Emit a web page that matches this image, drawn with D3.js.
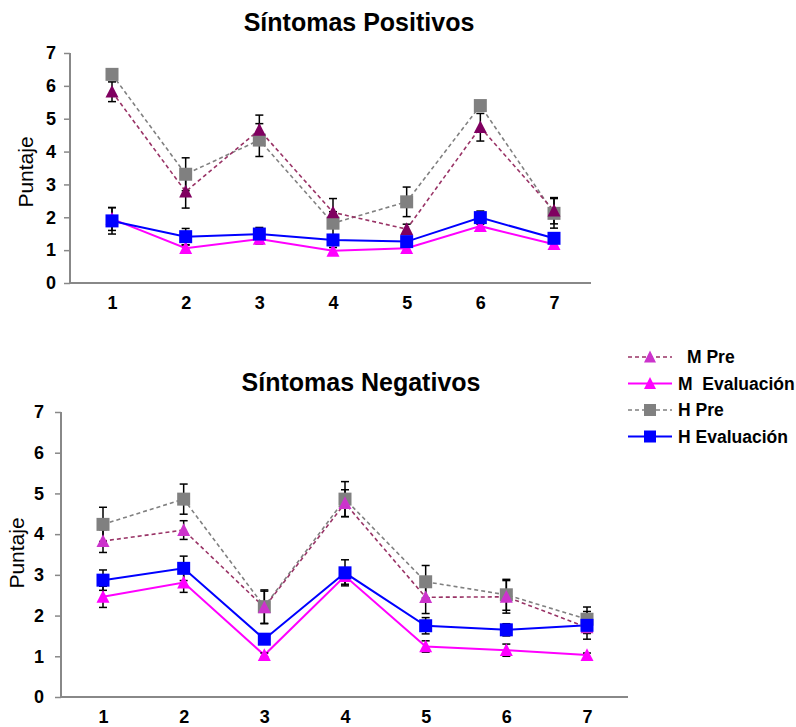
<!DOCTYPE html>
<html>
<head>
<meta charset="utf-8">
<script src="https://cdn.jsdelivr.net/npm/d3@7"></script>
<style>
  body { margin: 0; background: #fff; }
  text { font-family: "Liberation Sans", Arial, sans-serif; white-space: pre; }
</style>
</head>
<body>
<svg id="chart" width="796" height="727"></svg>
<script>
// categories on the x axis
var categories = [1, 2, 3, 4, 5, 6, 7];
var yTicks = [0, 1, 2, 3, 4, 5, 6, 7];

var seriesNames = ["M Pre", "M  Evaluación", "H Pre", "H Evaluación"];

// Síntomas Positivos
var posMPre = [5.82, 2.78, 4.66, 2.15, 1.64, 4.74, 2.2];
var posMEval = [1.95, 1.06, 1.34, 0.98, 1.06, 1.73, 1.18];
var posHPre = [6.35, 3.31, 4.35, 1.82, 2.47, 5.4, 2.12];
var posHEval = [1.89, 1.41, 1.49, 1.31, 1.26, 1.99, 1.36];
var posMPreErr = [0.3, 0.5, 0.45, 0.42, 0.15, 0.42, 0.4];
var posMEvalErr = [0.35, 0.1, 0.15, 0.1, 0.1, 0.1, 0.1];
var posHPreErr = [0.12, 0.5, 0.5, 0.35, 0.45, 0.1, 0.45];
var posHEvalErr = [0.4, 0.25, 0.2, 0.15, 0.15, 0.2, 0.15];

// Síntomas Negativos
var negMPre = [3.83, 4.1, 2.2, 4.76, 2.45, 2.46, 1.71];
var negMEval = [2.46, 2.81, 1.03, 2.97, 1.24, 1.15, 1.03];
var negHPre = [4.24, 4.86, 2.22, 4.86, 2.83, 2.51, 1.91];
var negHEval = [2.87, 3.16, 1.42, 3.05, 1.75, 1.65, 1.76];
var negMPreErr = [0.28, 0.23, 0.4, 0.33, 0.4, 0.4, 0.15];
var negMEvalErr = [0.26, 0.24, 0.05, 0.2, 0.14, 0.15, 0.05];
var negHPreErr = [0.42, 0.37, 0.41, 0.43, 0.4, 0.38, 0.3];
var negHEvalErr = [0.25, 0.3, 0.12, 0.32, 0.2, 0.15, 0.34];

var svg = d3.select("#chart");

// index matches seriesNames
var styles = [
  {line: "#993366", dash: "4,3", width: 1.6, shape: "tri", fill: "#cc33cc"},
  {line: "#ff00ff", dash: null, width: 2, shape: "tri", fill: "#ff00ff"},
  {line: "#808080", dash: "4,3", width: 1.6, shape: "sq", fill: "#808080"},
  {line: "#0000ff", dash: null, width: 2, shape: "sq", fill: "#0000ff"}
];
var drawOrder = [2, 0, 1, 3];

function marker(sel, shape, fill, size) {
  if (shape === "sq") {
    sel.append("rect")
        .attr("x", -size / 2).attr("y", -size / 2)
        .attr("width", size).attr("height", size)
        .attr("fill", fill);
  } else {
    var h = size * 0.9;
    sel.append("path")
        .attr("d", "M0," + (-h / 2 - 1) + "L" + (size / 2) + "," + (h / 2) + "L" + (-size / 2) + "," + (h / 2) + "Z")
        .attr("fill", fill);
  }
}

function panel(opts) {
  var x = d3.scalePoint().domain(categories).range(opts.xRange);
  var y = d3.scaleLinear().domain([0, 7]).range(opts.yRange);
  var g = svg.append("g");

  // title
  g.append("text")
      .attr("x", opts.titleX).attr("y", opts.titleY)
      .attr("text-anchor", "middle")
      .attr("font-size", 25).attr("font-weight", "bold")
      .text(opts.title);

  // y axis
  var yAxis = g.append("g")
      .attr("transform", "translate(" + opts.axisX + ",0)")
      .call(d3.axisLeft(y).tickValues(yTicks).tickSize(6).tickPadding(opts.tickPad).tickFormat(d3.format("d")));
  yAxis.select(".domain").attr("stroke", "#888").attr("stroke-width", 2)
      .attr("d", "M0," + y(7) + "V" + y(0));
  yAxis.selectAll(".tick line").attr("stroke", "#888").attr("stroke-width", 1.5);
  yAxis.selectAll(".tick text").attr("font-size", 18).attr("font-weight", "bold")
      .attr("fill", "#000").attr("font-family", "Liberation Sans, Arial, sans-serif");

  // x axis
  var xAxis = g.append("g")
      .attr("transform", "translate(0," + y(0) + ")")
      .call(d3.axisBottom(x).tickSize(0).tickPadding(opts.xPad));
  xAxis.select(".domain").attr("stroke", "#888").attr("stroke-width", 2)
      .attr("d", "M" + opts.axisX + ",0H" + opts.axisEnd);
  xAxis.selectAll(".tick text").attr("font-size", 18).attr("font-weight", "bold")
      .attr("fill", "#000").attr("font-family", "Liberation Sans, Arial, sans-serif");

  // y label
  g.append("text")
      .attr("transform", "translate(" + opts.labelX + "," + opts.labelY + ") rotate(-90)")
      .attr("text-anchor", "middle")
      .attr("font-size", 21)
      .text("Puntaje");

  var line = d3.line()
      .x(function(d, i) { return x(categories[i]); })
      .y(function(d) { return y(d); });

  drawOrder.forEach(function(k) {
    var st = styles[k], s = opts.series[k];
    g.append("path")
        .datum(s.values)
        .attr("fill", "none")
        .attr("stroke", st.line)
        .attr("stroke-width", st.width)
        .attr("stroke-dasharray", st.dash)
        .attr("d", line);
  });

  // error bars
  drawOrder.forEach(function(k) {
    var s = opts.series[k];
    var eb = g.append("g").selectAll("g")
        .data(s.values)
        .enter().append("g")
        .attr("transform", function(d, i) { return "translate(" + x(categories[i]) + ",0)"; });
    eb.append("line")
        .attr("y1", function(d, i) { return y(d + s.err[i]); })
        .attr("y2", function(d, i) { return y(d - s.err[i]); })
        .attr("stroke", "#000").attr("stroke-width", 1.5);
    eb.append("line")
        .attr("x1", -4).attr("x2", 4)
        .attr("y1", function(d, i) { return y(d + s.err[i]); })
        .attr("y2", function(d, i) { return y(d + s.err[i]); })
        .attr("stroke", "#000").attr("stroke-width", 1.5);
    eb.append("line")
        .attr("x1", -4).attr("x2", 4)
        .attr("y1", function(d, i) { return y(d - s.err[i]); })
        .attr("y2", function(d, i) { return y(d - s.err[i]); })
        .attr("stroke", "#000").attr("stroke-width", 1.5);
  });

  // markers
  drawOrder.forEach(function(k) {
    var st = styles[k], s = opts.series[k];
    var fill = k === 0 ? opts.mPreFill : st.fill;
    g.append("g").selectAll("g")
        .data(s.values)
        .enter().append("g")
        .attr("transform", function(d, i) { return "translate(" + x(categories[i]) + "," + y(d) + ")"; })
        .each(function() { marker(d3.select(this), st.shape, fill, 13); });
  });
}

panel({
  title: "Síntomas Positivos", titleX: 359, titleY: 31,
  xRange: [112, 554], yRange: [283, 53],
  axisX: 70, axisEnd: 591, tickPad: 8, xPad: 13,
  labelX: 33, labelY: 172,
  mPreFill: "#800060",
  series: [
    {values: posMPre, err: posMPreErr},
    {values: posMEval, err: posMEvalErr},
    {values: posHPre, err: posHPreErr},
    {values: posHEval, err: posHEvalErr}
  ]
});

panel({
  title: "Síntomas Negativos", titleX: 361, titleY: 391,
  xRange: [103, 587], yRange: [697, 412],
  axisX: 61, axisEnd: 628, tickPad: 11, xPad: 13,
  labelX: 24, labelY: 553,
  mPreFill: "#cc33cc",
  series: [
    {values: negMPre, err: negMPreErr},
    {values: negMEval, err: negMEvalErr},
    {values: negHPre, err: negHPreErr},
    {values: negHEval, err: negHEvalErr}
  ]
});

// legend
var legend = svg.append("g").selectAll("g")
    .data(seriesNames)
    .enter().append("g")
    .attr("transform", function(d, i) { return "translate(628," + (357 + i * 26.5) + ")"; });

legend.append("line")
    .attr("x1", 0).attr("x2", 44)
    .attr("stroke", function(d, i) { return styles[i].line; })
    .attr("stroke-width", function(d, i) { return styles[i].width; })
    .attr("stroke-dasharray", function(d, i) { return styles[i].dash; });

legend.each(function(d, i) {
  var m = d3.select(this).append("g").attr("transform", "translate(22,0)");
  marker(m, styles[i].shape, styles[i].fill, 12);
});

legend.append("text")
    .attr("x", function(d, i) { return i === 0 ? 59 : 50; })
    .attr("dy", "0.35em")
    .attr("font-size", 17.5).attr("font-weight", "bold")
    .text(function(d) { return d; });
</script>
</body>
</html>
